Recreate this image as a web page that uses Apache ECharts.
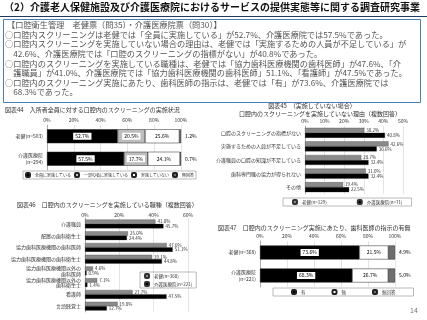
<!DOCTYPE html>
<html>
<head>
<meta charset="utf-8">
<script src="https://cdn.jsdelivr.net/npm/echarts@6/dist/echarts.min.js"></script>
<style>
  html, body { margin: 0; padding: 0; background: #fff; }
  #main { width: 427px; height: 320px; }
</style>
</head>
<body>
<div id="main"></div>
<script>
const FONT = '"Noto Sans CJK JP", sans-serif';

// 図表44 入所者全員に対する口腔内のスクリーニングの実施状況
const cats44 = ['老健(n=503)', '介護医療院\n(n=294)'];
const all44 = [52.7, 57.5];
const some44 = [20.5, 17.7];
const none44 = [25.6, 24.1];
const noAns44 = [1.2, 0.7];

// 図表45 実施していない理由
const cats45 = ['口腔のスクリーニングの指標がない', '実施するための人員が不足している', '介護職員の口腔の知識が不足している', '歯科専門職の協力が得られない', 'その他'];
const rouken45 = [30.2, 42.6, 28.7, 31.0, 19.4];
const iryoin45 = [40.8, 36.6, 32.4, 32.4, 22.5];

// 図表46 実施している職種
const cats46 = ['介護職員', '配置の歯科衛生士', '協力歯科医療機関の歯科医師', '協力歯科医療機関の歯科衛生士', '協力歯科医療機関以外の\n歯科医師', '協力歯科医療機関以外の\n歯科衛生士', '看護師', '言語聴覚士'];
const rouken46 = [41.0, 25.0, 47.6, 39.1, 4.6, 7.1, 27.7, 19.0];
const iryoin46 = [45.7, 24.4, 51.1, 44.8, 0.9, 1.4, 47.5, 12.7];

// 図表47 歯科医師の指示の有無
const cats47 = ['老健(n=368)', '介護医療院\n(n=221)'];
const yes47 = [73.6, 68.3];
const no47 = [21.5, 26.7];
const noAns47 = [4.9, 5.0];

const boxLines = [
  '【口腔衛生管理　老健票（問35）・介護医療院票（問30）】',
  '○口腔内スクリーニングは老健では「全員に実施している」が52.7%、介護医療院では57.5%であった。',
  '○口腔内スクリーニングを実施していない場合の理由は、老健では「実施するための人員が不足している」が',
  '　42.6%、介護医療院では「口腔のスクリーニングの指標がない」が40.8%であった。',
  '○口腔内のスクリーニングを実施している職種は、老健では「協力歯科医療機関の歯科医師」が47.6%、「介',
  '　護職員」が41.0%、介護医療院では「協力歯科医療機関の歯科医師」51.1%、「看護師」が47.5%であった。',
  '○口腔内のスクリーニング実施にあたり、歯科医師の指示は、老健では「有」が73.6%、介護医療院では',
  '　68.3%であった。'
];

const pct = p => p.value.toFixed(1) + '%';
const chart = echarts.init(document.getElementById('main'));

function xAx(gi, max, interval, margin) {
  return {
    type: 'value', gridIndex: gi, min: 0, max: max, interval: interval, position: 'top',
    axisLine: { show: false }, axisTick: { show: false },
    axisLabel: { formatter: '{value}%', fontSize: 5, color: '#333', margin: margin, fontFamily: FONT },
    splitLine: { lineStyle: { color: '#c8c8c8', width: 0.5 } }
  };
}
function yAx(gi, data, lh) {
  return {
    type: 'category', gridIndex: gi, data: data, inverse: true,
    axisTick: { show: false },
    axisLine: { lineStyle: { color: '#777', width: 0.5 } },
    axisLabel: { fontSize: 5, color: '#333', margin: 4, lineHeight: lh, fontFamily: FONT }
  };
}
function stackBar(name, gi, data, color, labelOpt) {
  return {
    name: name, type: 'bar', stack: 's' + gi, xAxisIndex: gi, yAxisIndex: gi,
    data: data, barWidth: 14,
    itemStyle: { color: color, borderColor: '#222', borderWidth: 0.5 },
    label: Object.assign({ show: true, formatter: pct, fontSize: 5, color: '#000', fontFamily: FONT }, labelOpt)
  };
}
const boxLabel = { position: 'inside', backgroundColor: '#fff', padding: [1, 2] };
const outLabel = { position: 'right', distance: 4 };

function pairBar(name, gi, data, color) {
  return {
    name: name, type: 'bar', xAxisIndex: gi, yAxisIndex: gi, data: data,
    barWidth: gi === 1 ? 5 : 4.4, barGap: '0%',
    itemStyle: { color: color, borderColor: '#333', borderWidth: 0.3 },
    label: { show: true, position: 'right', distance: 2, formatter: pct, fontSize: 4.5, color: '#333', fontFamily: FONT }
  };
}
const legendBase = {
  itemWidth: 4, itemHeight: 4, borderColor: '#777', borderWidth: 0.5,
  textStyle: { fontSize: 4.5, color: '#333', fontFamily: FONT }
};
const titleStyle = { fontSize: 6, fontWeight: 'normal', color: '#333', fontFamily: FONT };

const option = {
  animation: false,
  backgroundColor: '#fff',
  textStyle: { fontFamily: FONT },
  title: [
    { text: '図表44　入所者全員に対する口腔内のスクリーニングの実施状況', left: 5, top: 107, padding: 0,
      textStyle: titleStyle },
    { text: '図表45　（実施していない場合）', left: 312, top: 103, textAlign: 'center', padding: 0,
      textStyle: titleStyle },
    { text: '口腔内のスクリーニングを実施していない理由（複数回答）', left: 320, top: 111, textAlign: 'center', padding: 0,
      textStyle: titleStyle },
    { text: '図表46　口腔内のスクリーニングを実施している職種（複数回答）', left: 17, top: 202, padding: 0,
      textStyle: titleStyle },
    { text: '図表47　口腔内のスクリーニング実施にあたり、歯科医師の指示の有無', left: 218, top: 225, padding: 0,
      textStyle: titleStyle },
    { text: '14', left: 410, top: 307, padding: 0,
      textStyle: { fontSize: 7, fontWeight: 'normal', color: '#777' } }
  ],
  legend: [
    Object.assign({}, legendBase, { left: 23, top: 171, itemGap: 3, padding: [1, 2], width: 200,
      textStyle: { fontSize: 4, color: '#333', fontFamily: FONT },
      data: ['全員に実施している', '一部の者に実施している', '実施していない', '無回答'] }),
    Object.assign({}, legendBase, { left: 283, top: 198, itemGap: 30, padding: [1, 9], width: 130,
      data: ['老健(n=129)', '介護医療院(n=71)'] }),
    Object.assign({}, legendBase, { left: 140, top: 272, orient: 'vertical', itemGap: 2, padding: [1, 4],
      data: ['老健(n=368)', '介護医療院(n=221)'] }),
    Object.assign({}, legendBase, { left: 273, top: 288, itemGap: 26, padding: [1, 18], width: 130,
      data: ['有', '無', '無回答'] })
  ],
  grid: [
    { left: 47, top: 125, width: 134, height: 45 },
    { left: 305, top: 126, width: 98, height: 68 },
    { left: 85, top: 218, width: 103, height: 94 },
    { left: 260, top: 241, width: 135, height: 46 }
  ],
  xAxis: [xAx(0, 100, 20, 2), xAx(1, 50, 10, 2), xAx(2, 60, 20, 0), xAx(3, 100, 20, 2)],
  yAxis: [yAx(0, cats44, 6.5), yAx(1, cats45, 6), yAx(2, cats46, 5.5), yAx(3, cats47, 6.5)],
  series: [
    stackBar('全員に実施している', 0, all44, '#000', boxLabel),
    stackBar('一部の者に実施している', 0, some44, '#bdbdbd', boxLabel),
    stackBar('実施していない', 0, none44, '#fff', { position: 'inside' }),
    stackBar('無回答', 0, noAns44, '#6e6e6e', outLabel),
    pairBar('老健(n=129)', 1, rouken45, '#8a8a8a'),
    pairBar('介護医療院(n=71)', 1, iryoin45, '#000'),
    pairBar('老健(n=368)', 2, rouken46, '#8a8a8a'),
    pairBar('介護医療院(n=221)', 2, iryoin46, '#000'),
    stackBar('有', 3, yes47, '#000', boxLabel),
    stackBar('無', 3, no47, '#fff', { position: 'inside' }),
    stackBar('無回答', 3, noAns47, '#6e6e6e', outLabel)
  ],
  graphic: [
    { type: 'text', left: 4, top: 2,
      style: { text: '（2）介護老人保健施設及び介護医療院におけるサービスの提供実態等に関する調査研究事業',
        fill: '#111', font: 'bold 10px ' + FONT } },
    { type: 'line', shape: { x1: 0, y1: 16.5, x2: 427, y2: 16.5 }, style: { stroke: '#1f3864', lineWidth: 1 } },
    { type: 'rect', shape: { x: 3.5, y: 19.5, width: 417, height: 83 },
      style: { fill: 'none', stroke: '#4a7ebb', lineWidth: 1 } }
  ].concat(boxLines.map((t, i) => ({
    type: 'text', left: i === 0 ? 7 : 5, top: 21 + i * 9.6,
    style: { text: t, font: '8.2px ' + FONT, fill: '#555' }
  })))
};
chart.setOption(option);
</script>
</body>
</html>
